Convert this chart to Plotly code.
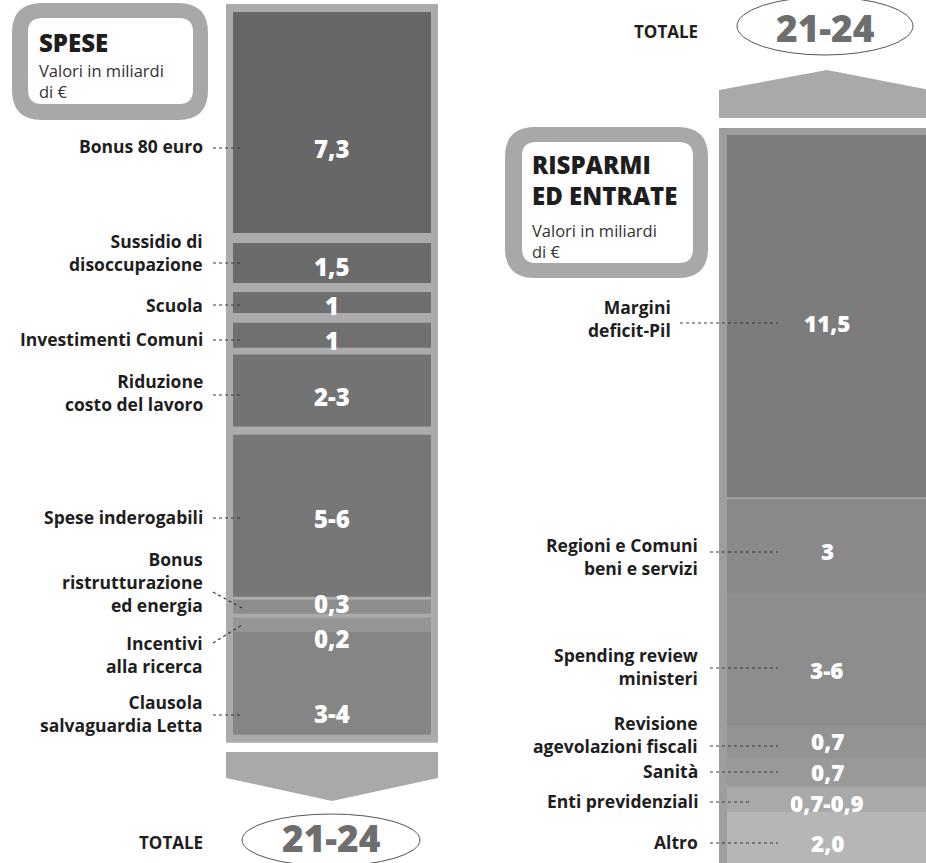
import plotly.graph_objects as go

# ---------------- DATA ----------------
spese_voci = ["Bonus 80 euro", "Sussidio di<br>disoccupazione", "Scuola", "Investimenti Comuni",
              "Riduzione<br>costo del lavoro", "Spese inderogabili",
              "Bonus<br>ristrutturazione<br>ed energia", "Incentivi<br>alla ricerca",
              "Clausola<br>salvaguardia Letta"]
spese_valori = ["7,3", "1,5", "1", "1", "2-3", "5-6", "0,3", "0,2", "3-4"]
# drawn height of each block (in billions as drawn)
spese_altezze = [7.37, 1.33, 0.70, 0.83, 2.40, 5.40, 0.47, 0.47, 3.43]
spese_spazi = [0.33, 0.30, 0.33, 0.23, 0.27, 0.10, 0.13, 0.0]
spese_colori = ["#676767", "#6b6b6b", "#6f6f6f", "#707070", "#737373", "#777777",
                "#8d8d8d", "#959595", "#858585"]

entrate_voci = ["Margini<br>deficit-Pil", "Regioni e Comuni<br>beni e servizi",
                "Spending review<br>ministeri", "Revisione<br>agevolazioni fiscali",
                "Sanità", "Enti previdenziali", "Altro"]
entrate_valori = ["11,5", "3", "3-6", "0,7", "0,7", "0,7-0,9", "2,0"]
entrate_altezze = [12.07, 3.13, 4.40, 1.10, 0.90, 0.83, 2.40]
entrate_spazi = [0.07, 0.0, 0.0, 0.0, 0.07, 0.0]
entrate_colori = ["#7c7c7c", "#898989", "#8d8d8d", "#939393", "#999999", "#a9a9a9", "#b6b6b6"]

totale_label = "TOTALE"
totale_valore = "21-24"
titolo_sx = "SPESE"
titolo_dx = "RISPARMI<br>ED ENTRATE"
unita = "Valori in miliardi<br>di €"

# ---------------- LAYOUT HELPERS ----------------
W, H = 926, 863
K = 30.0  # pixels per drawn unit


def Y(px):
    return px / K


FONT = "Open Sans"
DARK = "#1e1e1e"


def stack(start, heights, gaps):
    bases = []
    cur = start
    for i, h in enumerate(heights):
        bases.append(cur)
        cur += h
        if i < len(gaps):
            cur += gaps[i]
    return bases, cur


fig = go.Figure()

# ---- left bar (SPESE) ----
L_X, L_OUT_W, L_IN_W = 332, 212, 198
l_start = Y(12)
l_bases, l_end = stack(l_start, spese_altezze, spese_spazi)
pad = Y(8)
fig.add_trace(go.Bar(x=[L_X], base=[l_start - pad], y=[l_end - l_start + 2 * pad],
                     width=[L_OUT_W], marker=dict(color="#ababab", line=dict(width=0)),
                     hoverinfo="skip", showlegend=False))
fig.add_trace(go.Bar(x=[L_X] * len(spese_altezze), base=l_bases, y=spese_altezze,
                     width=[L_IN_W] * len(spese_altezze),
                     marker=dict(color=spese_colori, line=dict(width=0)),
                     hoverinfo="skip", showlegend=False))

# ---- right bar (RISPARMI ED ENTRATE) ----
R_X, R_OUT_W, R_IN_W = 827, 216, 200
r_start = Y(135)
r_bases, r_end = stack(r_start, entrate_altezze, entrate_spazi)
fig.add_trace(go.Bar(x=[R_X], base=[r_start - Y(7)], y=[r_end - r_start + Y(40)],
                     width=[R_OUT_W], marker=dict(color="#9e9e9e", line=dict(width=0)),
                     hoverinfo="skip", showlegend=False))
fig.add_trace(go.Bar(x=[R_X] * len(entrate_altezze), base=r_bases, y=entrate_altezze,
                     width=[R_IN_W] * len(entrate_altezze),
                     marker=dict(color=entrate_colori, line=dict(width=0)),
                     hoverinfo="skip", showlegend=False))

shapes = []
ann = []


def line(x0, y0, x1, y1, color="#3a3a3a", dash="dot", width=1.2):
    shapes.append(dict(type="line", xref="x", yref="y", x0=x0, x1=x1, y0=Y(y0), y1=Y(y1),
                       line=dict(color=color, width=width, dash=dash), layer="above"))


def poly(points, color):
    p = "M " + " L ".join(f"{x},{Y(y)}" for x, y in points) + " Z"
    shapes.append(dict(type="path", xref="x", yref="y", path=p, fillcolor=color,
                       line=dict(width=0), layer="below"))


def rrect(x0, y0, x1, y1, r, color):
    yy = lambda v: Y(v)
    p = (f"M {x0+r},{yy(y0)} L {x1-r},{yy(y0)} Q {x1},{yy(y0)} {x1},{yy(y0+r)} "
         f"L {x1},{yy(y1-r)} Q {x1},{yy(y1)} {x1-r},{yy(y1)} L {x0+r},{yy(y1)} "
         f"Q {x0},{yy(y1)} {x0},{yy(y1-r)} L {x0},{yy(y0+r)} Q {x0},{yy(y0)} {x0+r},{yy(y0)} Z")
    shapes.append(dict(type="path", xref="x", yref="y", path=p, fillcolor=color,
                       line=dict(width=0), layer="above"))


def text(x, y, t, size, color=DARK, xanchor="right", weight=700):
    align = {"right": "right", "left": "left", "center": "center"}[xanchor]
    ann.append(dict(x=x, y=Y(y), xref="x", yref="y", text=t,
                    showarrow=False, xanchor=xanchor, yanchor="middle", align=align,
                    font=dict(family=FONT, size=size, color=color, weight=weight)))


# ---- arrows ----
poly([(226, 752), (438, 752), (438, 778), (332, 801), (226, 778)], "#a9a9a9")
poly([(719, 118), (940, 118), (940, 92), (827, 70), (719, 90)], "#a9a9a9")

# ---- callout boxes ----
rrect(12, 3, 208, 120, 30, "#a8a8a8")
rrect(28, 18, 193, 104, 14, "#ffffff")
rrect(505, 127, 708, 278, 30, "#a8a8a8")
rrect(522, 142, 693, 263, 14, "#ffffff")
text(37, 42, titolo_sx, 24, xanchor="left", weight=800)
text(37, 81, unita, 16.5, color="#333333", xanchor="left", weight=400)
text(530, 180, titolo_dx, 24, xanchor="left", weight=800)
text(530, 241, unita, 16.5, color="#333333", xanchor="left", weight=400)

# ---- ellipses with totals ----
shapes.append(dict(type="circle", xref="x", yref="y", x0=242, x1=420, y0=Y(814), y1=Y(866),
                   line=dict(color="#555555", width=1), fillcolor="white", layer="above"))
shapes.append(dict(type="circle", xref="x", yref="y", x0=737, x1=913, y0=Y(-3), y1=Y(55),
                   line=dict(color="#555555", width=1), fillcolor="white", layer="above"))
text(331, 837, totale_valore, 37, color="#6e6e6e", xanchor="center", weight=800)
text(825, 27, totale_valore, 37, color="#6e6e6e", xanchor="center", weight=800)
text(205, 842, totale_label, 17)
text(700, 31, totale_label, 17)

# ---- left labels ----
l_label_y = [146, 252, 305, 339, 392, 517, 582, 654, 713]
l_value_y = [148, 266, 305, 340, 396, 518, 603, 638, 713]
l_lead_y = [148, 263, 305, 340, 395, 518, None, None, 715]
for i in range(len(spese_voci)):
    text(205, l_label_y[i], spese_voci[i], 17.5)
    text(L_X, l_value_y[i], spese_valori[i], 24, color="white", xanchor="center", weight=800)
    if l_lead_y[i] is not None:
        line(213, l_lead_y[i], 242, l_lead_y[i])
line(213, 592, 242, 608)
line(213, 643, 242, 625)

# ---- right labels ----
r_label_y = [318, 556, 666, 734, 771, 801, 842]
r_label_x = [673, 700, 700, 700, 700, 700, 700]
r_value_y = [323, 551, 670, 741, 772, 803, 843]
r_lead = [(680, 778, 323), (710, 778, 552), (710, 778, 668), (710, 778, 746),
          (710, 778, 772), (710, 752, 802), (710, 778, 843)]
for i in range(len(entrate_voci)):
    text(r_label_x[i], r_label_y[i], entrate_voci[i], 17.5)
    text(R_X, r_value_y[i], entrate_valori[i], 22.5, color="white", xanchor="center", weight=800)
    x0, x1, yy = r_lead[i]
    line(x0, yy, x1, yy)

fig.update_layout(
    width=W, height=H, margin=dict(l=0, r=0, t=0, b=0),
    paper_bgcolor="white", plot_bgcolor="white",
    barmode="overlay", showlegend=False,
    xaxis=dict(range=[0, W], visible=False, fixedrange=True),
    yaxis=dict(range=[Y(H), 0], visible=False, fixedrange=True),
    shapes=shapes, annotations=ann,
)

fig.write_html("out.html", config={"displayModeBar": False},
               post_script="document.body.style.margin='0';document.body.style.padding='0';"
                           "document.body.style.overflow='hidden';")
